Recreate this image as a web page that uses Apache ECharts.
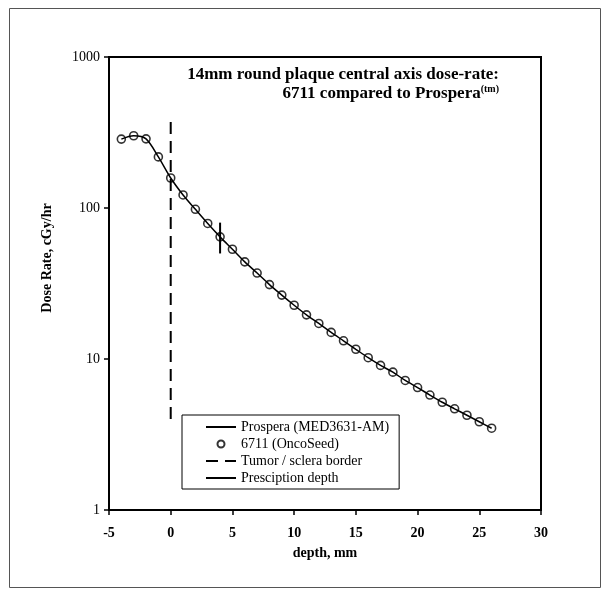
<!DOCTYPE html>
<html>
<head>
<meta charset="utf-8">
<script src="https://cdn.jsdelivr.net/npm/echarts@6/dist/echarts.min.js"></script>
<style>
  html, body { margin: 0; padding: 0; background: #fff; }
  #chart { width: 605px; height: 590px; }
</style>
</head>
<body>
<div id="chart"></div>
<script>
// depth in mm, dose rate in cGy/hr
const depths = [-4, -3, -2, -1, 0, 1, 2, 3, 4, 5, 6, 7, 8, 9, 10, 11, 12, 13, 14, 15,
  16, 17, 18, 19, 20, 21, 22, 23, 24, 25, 26]
const prospera = [286, 301, 287, 218, 158, 122, 98, 79, 64.4, 53.3, 44.0, 37.1, 31.1, 26.5,
  22.7, 19.6, 17.2, 15.0, 13.2, 11.6, 10.2, 9.07, 8.18, 7.21, 6.47, 5.77, 5.17, 4.68, 4.24, 3.84, 3.48]
const oncoSeed = [286, 301, 287, 218, 158, 122, 98, 79, 64.4, 53.3, 44.0, 37.1, 31.1, 26.5,
  22.7, 19.6, 17.2, 15.0, 13.2, 11.6, 10.2, 9.07, 8.18, 7.21, 6.47, 5.77, 5.17, 4.68, 4.24, 3.84, 3.48]
const borderLine = [[0, 4], [0, 400]]
const prescriptionLine = [[4, 50], [4, 80]]
const xTicks = [-5, 30, 5]   // min, max, interval
const yTicks = [1, 1000]

const seriesNames = ['Prospera (MED3631-AM)', '6711 (OncoSeed)', 'Tumor / sclera border', 'Presciption depth']
const serif = 'Liberation Serif'

const chart = echarts.init(document.getElementById('chart'))

// line entries in the legend: keep the line, hide the dot echarts puts on it
const noDot = { opacity: 0 }

chart.setOption({
  animation: false,
  title: {
    text: '{a|14mm round plaque central axis dose-rate:}\n{a|6711 compared to Prospera}{s|(tm)}',
    right: 101,
    top: 60,
    textStyle: {
      align: 'right',
      rich: {
        a: { fontFamily: serif, fontSize: 17, fontWeight: 'bold', color: '#000', lineHeight: 19, align: 'right' },
        s: { fontFamily: serif, fontSize: 10, fontWeight: 'bold', color: '#000', lineHeight: 19, verticalAlign: 'top', align: 'right' }
      }
    }
  },
  graphic: [
    {
      type: 'rect',
      shape: { x: 9.5, y: 8.5, width: 591, height: 579 },
      style: { fill: 'none', stroke: '#555', lineWidth: 1 }
    },
    {
      type: 'text',
      x: 47,
      y: 258,
      rotation: Math.PI / 2,
      style: {
        text: 'Dose Rate, cGy/hr',
        fontFamily: serif,
        fontSize: 14,
        fontWeight: 'bold',
        fill: '#000',
        align: 'center',
        verticalAlign: 'middle'
      }
    }
  ],
  legend: {
    orient: 'vertical',
    left: 182,
    top: 415,
    padding: [5, 10, 4, 23],
    itemWidth: 30,
    itemHeight: 7,
    itemGap: 3,
    borderColor: '#000',
    borderWidth: 1,
    textStyle: { fontFamily: serif, fontSize: 14, color: '#000', lineHeight: 14 },
    data: [
      { name: seriesNames[0], itemStyle: noDot },
      { name: seriesNames[1] },
      { name: seriesNames[2], itemStyle: noDot },
      { name: seriesNames[3], itemStyle: noDot }
    ]
  },
  grid: {
    left: 109,
    right: 64,
    top: 57,
    bottom: 80,
    show: true,
    borderColor: '#000',
    borderWidth: 2
  },
  xAxis: {
    type: 'value',
    min: xTicks[0],
    max: xTicks[1],
    interval: xTicks[2],
    name: 'depth, mm',
    nameLocation: 'middle',
    nameGap: 36,
    nameTextStyle: { fontFamily: serif, fontSize: 14, fontWeight: 'bold', color: '#000' },
    axisLine: { onZero: false, lineStyle: { color: '#000', width: 2 } },
    axisTick: { length: 5, lineStyle: { color: '#000', width: 1.5 } },
    axisLabel: { fontFamily: serif, fontSize: 14, fontWeight: 'bold', color: '#000', margin: 16 },
    splitLine: { show: false }
  },
  yAxis: {
    type: 'log',
    logBase: 10,
    min: yTicks[0],
    max: yTicks[1],
    axisLine: { onZero: false, lineStyle: { color: '#000', width: 2 } },
    axisTick: { length: 5, lineStyle: { color: '#000', width: 1.5 } },
    axisLabel: {
      fontFamily: serif, fontSize: 14, color: '#000', margin: 9,
      formatter: v => String(Math.round(v))
    },
    minorTick: { show: false },
    splitLine: { show: false }
  },
  series: [
    {
      name: seriesNames[0],
      type: 'line',
      symbol: 'none',
      smooth: 0.3,
      data: depths.map((d, i) => [d, prospera[i]]),
      lineStyle: { color: '#000', width: 1.5 },
      itemStyle: { color: '#000' }
    },
    {
      name: seriesNames[1],
      type: 'scatter',
      symbol: 'circle',
      symbolSize: 8,
      data: depths.map((d, i) => [d, oncoSeed[i]]),
      itemStyle: { color: 'rgba(255,255,255,0)', borderColor: '#000', borderWidth: 1.6 }
    },
    {
      name: seriesNames[2],
      type: 'line',
      symbol: 'none',
      data: borderLine,
      lineStyle: { color: '#000', width: 2, type: [12, 7] },
      itemStyle: { color: '#000' }
    },
    {
      name: seriesNames[3],
      type: 'line',
      symbol: 'none',
      data: prescriptionLine,
      lineStyle: { color: '#000', width: 2 },
      itemStyle: { color: '#000' }
    }
  ]
})
</script>
</body>
</html>
